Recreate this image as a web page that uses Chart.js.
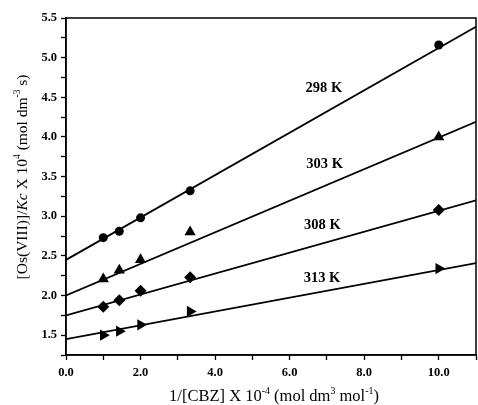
<!DOCTYPE html>
<html>
<head>
<meta charset="utf-8">
<script src="https://cdn.jsdelivr.net/npm/chart.js@4/dist/chart.umd.min.js"></script>
<style>
  html, body { margin: 0; padding: 0; background: #fff; }
  #wrap { width: 478px; height: 405px; }
</style>
</head>
<body>
<div id="wrap"><canvas id="chart" width="478" height="405"></canvas></div>
<script>
// 1/[CBZ] values, same for every temperature
let xValues = [1.0, 1.43, 2.0, 3.33, 10.0];
let temps = ['298 K', '303 K', '308 K', '313 K'];
let y298 = [2.73, 2.81, 2.98, 3.32, 5.16];
let y303 = [2.21, 2.32, 2.45, 2.80, 4.00];
let y308 = [1.86, 1.94, 2.06, 2.23, 3.08];
let y313 = [1.50, 1.55, 1.63, 1.80, 2.34];
// fitted lines read at x = 0 and x = 11
let fitX = [0, 11];
let fitStart = [2.45, 2.00, 1.75, 1.45];
let fitEnd = [5.39, 4.19, 3.20, 2.41];

let series = [y298, y303, y308, y313];
let markers = [
    { pointStyle: 'circle', radius: 4.5, rotation: 0 },
    { pointStyle: 'triangle', radius: 6.5, rotation: 0 },
    { pointStyle: 'rectRot', radius: 6, rotation: 0 },
    { pointStyle: 'triangle', radius: 6.5, rotation: 90 }
];
// where the temperature labels sit (data units)
let labelPos = [[6.92, 4.62], [6.94, 3.66], [6.88, 2.89], [6.87, 2.22]];

let datasets = [];
series.forEach(function (ys, i) {
    datasets.push({
        type: 'line',
        data: fitX.map(function (x, j) { return { x: x, y: j == 0 ? fitStart[i] : fitEnd[i] }; }),
        borderColor: '#000',
        borderWidth: 1.8,
        pointRadius: 0,
        fill: false
    });
    datasets.push({
        type: 'scatter',
        data: xValues.map(function (x, j) { return { x: x, y: ys[j] }; }),
        backgroundColor: '#000',
        borderColor: '#000',
        pointStyle: markers[i].pointStyle,
        pointRadius: markers[i].radius,
        rotation: markers[i].rotation,
        borderWidth: 0
    });
});

function drawRich(ctx, parts, size) {
    // measure first, then draw centred on 0,0
    let total = 0;
    parts.forEach(function (p) {
        ctx.font = (p[1] == 'i' ? 'italic ' : '') + (p[1] == 's' ? size * 0.6 : size) + 'px "Liberation Serif"';
        p.w = ctx.measureText(p[0]).width;
        total += p.w;
    });
    let x = -total / 2;
    parts.forEach(function (p) {
        ctx.font = (p[1] == 'i' ? 'italic ' : '') + (p[1] == 's' ? size * 0.6 : size) + 'px "Liberation Serif"';
        ctx.fillText(p[0], x, p[1] == 's' ? -size * 0.42 : 0);
        x += p.w;
    });
}

let extras = {
    id: 'extras',
    afterDraw: function (chart) {
        let ctx = chart.ctx;
        let a = chart.chartArea;
        let sx = chart.scales.x, sy = chart.scales.y;
        ctx.save();
        ctx.strokeStyle = '#000';
        ctx.lineWidth = 1.5;
        ctx.strokeRect(a.left, a.top, a.right - a.left, a.bottom - a.top);

        ctx.fillStyle = '#000';
        ctx.textAlign = 'center';
        ctx.textBaseline = 'middle';
        ctx.font = 'bold 14.5px "Liberation Serif"';
        temps.forEach(function (t, i) {
            ctx.fillText(t, sx.getPixelForValue(labelPos[i][0]), sy.getPixelForValue(labelPos[i][1]));
        });

        ctx.textAlign = 'left';
        ctx.textBaseline = 'alphabetic';
        ctx.save();
        ctx.translate(274, 401);
        drawRich(ctx, [['1/[CBZ] X 10', 'n'], ['-4', 's'], [' (mol dm', 'n'], ['3', 's'], [' mol', 'n'], ['-1', 's'], [')', 'n']], 16.5);
        ctx.restore();

        ctx.save();
        ctx.translate(27, 177);
        ctx.rotate(-Math.PI / 2);
        drawRich(ctx, [['[Os(VIII)]/', 'n'], ['Kc', 'i'], [' X 10', 'n'], ['4', 's'], [' (mol dm', 'n'], ['-3', 's'], [' s)', 'n']], 15.5);
        ctx.restore();
        ctx.restore();
    }
};

let tickFont = { family: 'Liberation Serif', size: 12.5, weight: 'bold' };

new Chart(document.getElementById('chart').getContext('2d'), {
    type: 'scatter',
    data: { datasets: datasets },
    plugins: [extras],
    options: {
        responsive: false,
        animation: false,
        layout: { autoPadding: false, padding: { top: 18, right: 2, left: 0, bottom: 0 } },
        plugins: { legend: { display: false }, tooltip: { enabled: false } },
        scales: {
            x: {
                type: 'linear',
                min: 0,
                max: 11,
                afterFit: function (s) { s.height = 50; s.paddingRight = 0; s.paddingLeft = 0; },
                ticks: {
                    stepSize: 1,
                    color: '#000',
                    font: tickFont,
                    padding: 5,
                    maxRotation: 0,
                    autoSkip: false,
                    callback: function (v) { return v % 2 == 0 && v < 11 ? v.toFixed(1) : ''; }
                },
                grid: { drawOnChartArea: false, color: '#000', tickLength: 5, tickWidth: 1.3 },
                border: { color: '#000', width: 1.5 }
            },
            y: {
                type: 'linear',
                min: 1.25,
                max: 5.5,
                afterFit: function (s) { s.width = 66; s.paddingTop = 0; s.paddingBottom = 0; },
                ticks: {
                    stepSize: 0.25,
                    color: '#000',
                    font: tickFont,
                    padding: 4,
                    autoSkip: false,
                    callback: function (v) { return Math.abs(v * 2 - Math.round(v * 2)) < 1e-6 ? v.toFixed(1) : ''; }
                },
                grid: { drawOnChartArea: false, color: '#000', tickLength: 5, tickWidth: 1.3 },
                border: { color: '#000', width: 1.5 }
            }
        }
    }
});
</script>
</body>
</html>
